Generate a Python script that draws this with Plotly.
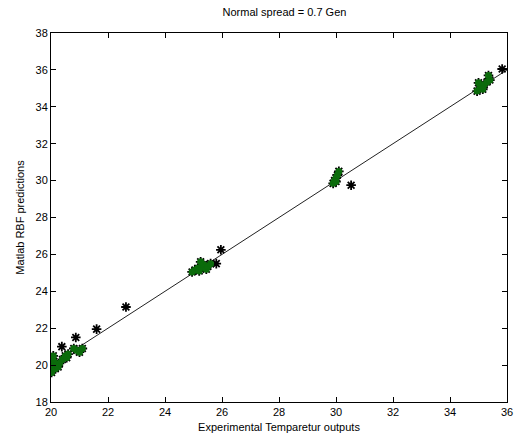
import plotly.graph_objects as go

# Experimental temperature outputs vs. RBF network predictions
experimental = [
    20.02, 20.05, 20.10, 20.00, 20.15, 20.20, 20.08, 20.30, 20.25, 20.40,
    20.50, 20.60, 20.55, 20.90, 21.00, 21.10, 20.80,
    20.38, 20.87, 21.60, 22.63,
    24.95, 25.05, 25.15, 25.20, 25.30, 25.35, 25.45, 25.50, 25.60, 25.25,
    25.80, 25.96,
    29.90, 29.95, 30.00, 30.05, 30.10, 30.00,
    30.53,
    34.95, 35.05, 35.10, 35.20, 35.30, 35.40, 35.35, 35.00, 35.15,
    35.83,
]
predicted = [
    19.60, 19.90, 20.20, 20.40, 19.80, 20.00, 20.50, 20.10, 19.90, 20.30,
    20.50, 20.60, 20.40, 20.80, 20.70, 20.90, 20.90,
    21.00, 21.50, 21.95, 23.15,
    25.05, 25.15, 25.25, 25.10, 25.30, 25.45, 25.20, 25.35, 25.50, 25.60,
    25.50, 26.25,
    29.85, 30.00, 30.15, 30.30, 30.50, 29.95,
    29.75,
    34.85, 35.00, 35.10, 35.20, 35.35, 35.45, 35.70, 35.30, 34.95,
    36.05,
]
# points inside the dense groups, drawn filled in green
in_cluster = [
    1, 1, 1, 1, 1, 1, 1, 1, 1, 1,
    1, 1, 1, 1, 1, 1, 1,
    0, 0, 0, 0,
    1, 1, 1, 1, 1, 1, 1, 1, 1, 1,
    0, 0,
    1, 1, 1, 1, 1, 1,
    0,
    1, 1, 1, 1, 1, 1, 1, 1, 1,
    0,
]
ref_line = [20, 36]

xticks = list(range(20, 37, 2))
yticks = list(range(18, 39, 2))

font_family = "Liberation Sans Narrow, Liberation Sans, Arial, sans-serif"

fig = go.Figure()

fig.add_trace(go.Scatter(
    x=ref_line, y=ref_line, mode="lines",
    line=dict(color="#222222", width=1),
    hoverinfo="skip",
))

fig.add_trace(go.Scatter(
    x=experimental, y=predicted, mode="markers",
    marker=dict(symbol="asterisk-open", size=8, color="black",
                line=dict(color="black", width=1.8)),
))

gx = [x for x, c in zip(experimental, in_cluster) if c]
gy = [y for y, c in zip(predicted, in_cluster) if c]
fig.add_trace(go.Scatter(
    x=gx, y=gy, mode="markers",
    marker=dict(symbol="circle", size=7, color="#0b6b0b",
                line=dict(width=0)),
))

axis_common = dict(
    showgrid=False, zeroline=False,
    showline=True, linecolor="black", linewidth=1, mirror="ticks",
    ticks="inside", ticklen=5, tickcolor="black",
    tickfont=dict(family=font_family, size=11, color="black"),
)

fig.update_layout(
    width=522, height=445,
    margin=dict(l=51, r=9, t=33, b=43),
    paper_bgcolor="white", plot_bgcolor="white",
    showlegend=False,
    title=dict(text="Normal spread = 0.7 Gen", x=0.545, xanchor="center",
               y=0.972, yanchor="middle",
               font=dict(family=font_family, size=11, color="black")),
    xaxis=dict(range=[20, 36], tickvals=xticks,
               title=dict(text="Experimental Temparetur outputs",
                          font=dict(family=font_family, size=11, color="black"),
                          standoff=6),
               **axis_common),
    yaxis=dict(range=[18, 38], tickvals=yticks,
               title=dict(text="Matlab RBF predictions",
                          font=dict(family=font_family, size=11, color="black"),
                          standoff=8),
               **axis_common),
)

fig.write_html("out.html")
